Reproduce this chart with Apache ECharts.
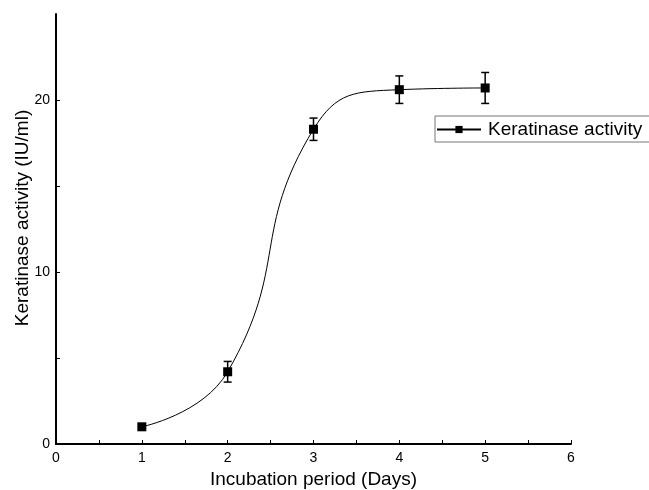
<!DOCTYPE html>
<html>
<head>
<meta charset="utf-8">
<script src="https://cdn.jsdelivr.net/npm/echarts@6/dist/echarts.min.js"></script>
<style>
  html, body { margin: 0; padding: 0; background: #fff; }
  #main { width: 649px; height: 490px; }
</style>
</head>
<body>
<div id="main"></div>
<script>
var days = [1, 2, 3, 4, 5];
var activity = [1.0, 4.2, 18.3, 20.6, 20.7];
var errors = [0, 0.6, 0.65, 0.8, 0.9];
var yTicks = [0, 5, 10, 15, 20];
var yLabels = [0, 10, 20];

var chart = echarts.init(document.getElementById('main'));
var font = 'Liberation Sans, Arial, sans-serif';

var lineData = days.map(function (d, i) { return [d, activity[i]]; });
var errData = days.map(function (d, i) { return [d, activity[i] - errors[i], activity[i] + errors[i]]; });

var option = {
    animation: false,
    backgroundColor: '#fff',
    textStyle: { fontFamily: font },
    grid: { left: 56, right: 78, top: 14, bottom: 46, outerBoundsMode: 'none' },
    legend: {
        left: 435, top: 116,
        data: ['Keratinase activity'],
        borderColor: '#777', borderWidth: 1,
        padding: [4, 12, 3, 1],
        itemWidth: 44, itemHeight: 9,
        textStyle: { fontSize: 19, color: '#000', padding: [0, 0, 0, 2] }
    },
    xAxis: {
        type: 'value', min: 0, max: 6, interval: 1,
        name: 'Incubation period (Days)', nameLocation: 'middle', nameGap: 26,
        nameTextStyle: { fontSize: 19, color: '#000' },
        axisLine: { lineStyle: { color: '#000', width: 2 } },
        axisTick: { inside: true, length: 4, lineStyle: { color: '#000' } },
        minorTick: { show: true, splitNumber: 2, length: 4, lineStyle: { color: '#000' } },
        axisLabel: { fontSize: 14, color: '#000', margin: 7 },
        splitLine: { show: false }
    },
    yAxis: {
        type: 'value', min: 0, max: 25,
        name: 'Keratinase activity (IU/ml)', nameLocation: 'middle', nameGap: 24,
        nameMoveOverlap: false,
        nameTextStyle: { fontSize: 19, color: '#000', padding: [0, 0, 0, 22] },
        axisLine: { show: true, lineStyle: { color: '#000', width: 2 } },
        axisTick: { show: true, inside: true, length: 4, customValues: yTicks, lineStyle: { color: '#000' } },
        axisLabel: { fontSize: 14, color: '#000', margin: 6, customValues: yLabels },
        splitLine: { show: false }
    },
    series: [
        {
            name: 'Keratinase activity',
            type: 'line',
            data: lineData,
            smooth: 0.5,
            symbol: 'rect', symbolSize: 9,
            itemStyle: { color: '#000' },
            lineStyle: { color: '#000', width: 1 },
            z: 3
        },
        {
            type: 'custom',
            data: errData,
            z: 4,
            renderItem: function (params, api) {
                var x = api.value(0);
                var lo = api.coord([x, api.value(1)]);
                var hi = api.coord([x, api.value(2)]);
                if (Math.abs(lo[1] - hi[1]) < 1) return null;
                var w = 4;
                var st = { stroke: '#000', lineWidth: 1.5 };
                return {
                    type: 'group',
                    children: [
                        { type: 'line', shape: { x1: lo[0], y1: lo[1], x2: hi[0], y2: hi[1] }, style: st },
                        { type: 'line', shape: { x1: lo[0] - w, y1: lo[1], x2: lo[0] + w, y2: lo[1] }, style: st },
                        { type: 'line', shape: { x1: hi[0] - w, y1: hi[1], x2: hi[0] + w, y2: hi[1] }, style: st }
                    ]
                };
            }
        }
    ]
};

chart.setOption(option);
</script>
</body>
</html>
